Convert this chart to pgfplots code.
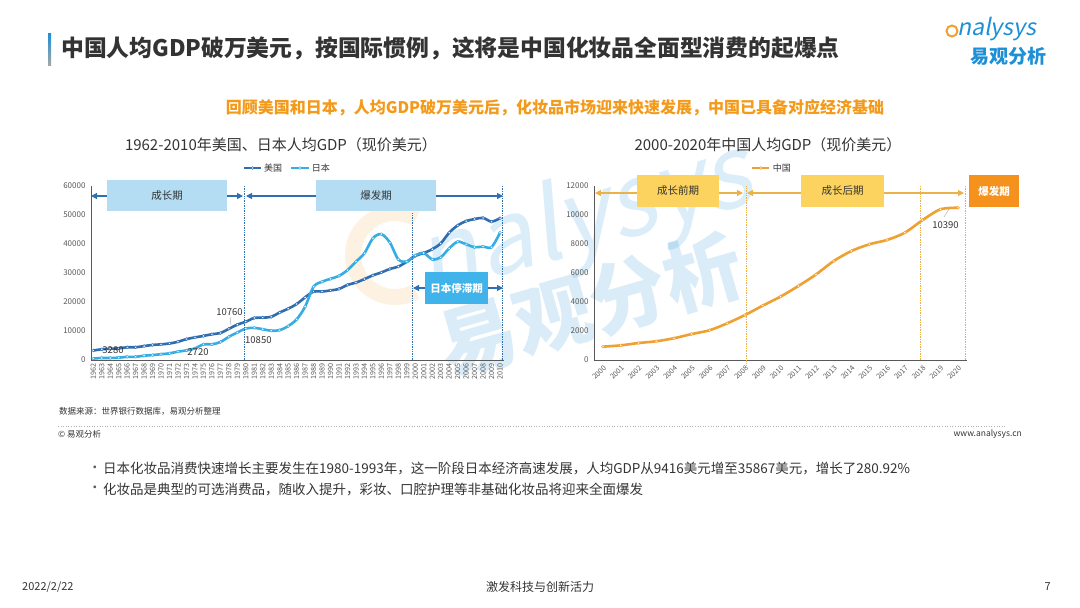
\documentclass[border=0pt]{standalone}
\usepackage{fontspec}
\setmainfont{Noto Sans CJK SC}
\newfontfamily\logofont{Noto Sans CJK SC}[FakeSlant=0.2]
\usepackage{pgfplots}
\pgfplotsset{compat=1.18}
\usetikzlibrary{arrows.meta}
\definecolor{usblue}{HTML}{2E6DB0}
\definecolor{jpblue}{HTML}{35ACE3}
\definecolor{cnorange}{HTML}{F0A030}
\definecolor{boxlb}{HTML}{B4DDF3}
\definecolor{boxjp}{HTML}{3FB3EA}
\definecolor{arrowb}{HTML}{2F6FB2}
\definecolor{arrowo}{HTML}{EBB24A}
\definecolor{boxy}{HTML}{FCD35F}
\definecolor{boxo}{HTML}{F5921E}
\definecolor{subor}{HTML}{F39A1B}
\definecolor{txt}{HTML}{333333}
\definecolor{ticc}{HTML}{595959}
\definecolor{logob}{HTML}{1C8FD6}
\newcommand\fs[1]{\fontsize{#1}{#1}\selectfont}
\pgfplotstableread{
year us jp
1962 3280 500
1963 3700 700
1964 3900 700
1965 4000 800
1966 4400 1100
1967 4400 1100
1968 4800 1500
1969 5200 1700
1970 5400 2000
1971 5700 2300
1972 6300 2900
1973 7200 3300
1974 7800 4000
1975 8300 5400
1976 8900 5400
1977 9300 6200
1978 10760 8000
1979 12200 9500
1980 13200 10850
1981 14500 11100
1982 14600 10600
1983 14900 10100
1984 16400 10300
1985 17700 11700
1986 19300 14000
1987 21600 18400
1988 23600 25300
1989 23600 27000
1990 24000 28000
1991 24500 29000
1992 25900 31000
1993 26700 33900
1994 27900 36800
1995 29200 42000
1996 30200 43400
1997 31400 40500
1998 32200 34700
1999 33900 33900
2000 35900 36100
2001 36900 36900
2002 38200 34700
2003 40200 35400
2004 43900 38500
2005 46400 40800
2006 47900 39900
2007 48600 38900
2008 49000 39100
2009 47700 38900
2010 48900 43900
}\usjp
\pgfplotstableread{
year cn
2000 920
2001 1010
2002 1170
2003 1290
2004 1500
2005 1790
2006 2050
2007 2530
2008 3100
2009 3750
2010 4370
2011 5100
2012 5900
2013 6830
2014 7520
2015 7980
2016 8280
2017 8780
2018 9650
2019 10390
2020 10500
}\cn
\begin{document}
\begin{tikzpicture}
\useasboundingbox (0,0) rectangle (1080pt,-608pt);
% watermark
\begin{scope}[x=1pt,y=-1pt]
\draw[cnorange, opacity=0.14, line width=16pt] (395,255) ++(60:42) arc (60:300:42);
\node[rotate=16, opacity=0.16, text=logob, font=\logofont\fs{100}] at (585,222) {nalysys};
\node[rotate=16, opacity=0.17, text=logob, font=\fs{78}\bfseries] at (590,305) {易观分析};
\end{scope}
% left axis
\begin{axis}[at={(91pt,-360pt)}, anchor=south west,
 scale only axis, width=413pt, height=174pt,
 xmin=1961.73, xmax=2010.47, ymin=0, ymax=60000,
 axis x line*=bottom, axis y line*=left,
 axis line style={draw=ticc, line width=0.6pt},
 xtick={1962,...,2010}, ytick={0,10000,...,60000},
 major tick length=0pt,
 tick label style={font=\fs{8}, text=ticc},
 yticklabel style={xshift=-2pt},
 xticklabel style={rotate=90, anchor=east, font=\fs{7.2}},
 /pgf/number format/1000 sep={},
 /pgf/number format/assume math mode=true,
 scaled y ticks=false,
 clip=false,
 legend style={at={(0.475,1)}, anchor=center, yshift=18pt, draw=none, fill=none,
   legend columns=2, font=\fs{9}, text=txt,
   /tikz/every even column/.append style={column sep=6pt}},
 legend cell align=left,
]
\addplot[usblue, line width=2.6pt, smooth, mark=*, mark size=1.4pt,
  mark options={fill=white, draw=usblue, line width=0.5pt}] table[x=year, y=us] {\usjp};
\addlegendentry{美国}
\addplot[jpblue, line width=2.6pt, smooth, mark=*, mark size=1.4pt,
  mark options={fill=white, draw=jpblue, line width=0.5pt}] table[x=year, y=jp] {\usjp};
\addlegendentry{日本}
\draw[arrowb, densely dotted, line width=0.7pt] (axis cs:1979.8,0) -- (axis cs:1979.8,60000);
\draw[arrowb, densely dotted, line width=0.7pt] (axis cs:1999.66,0) -- (axis cs:1999.66,51000);
\draw[arrowb, densely dotted, line width=0.7pt] (axis cs:2010.3,0) -- (axis cs:2010.3,60000);
\end{axis}
% right axis
\begin{axis}[at={(594pt,-360pt)}, anchor=south west,
 scale only axis, width=373pt, height=174pt,
 xmin=1999.5, xmax=2020.5, ymin=0, ymax=12000,
 axis x line*=bottom, axis y line*=left,
 axis line style={draw=ticc, line width=0.6pt},
 xtick={2000,...,2020}, ytick={0,2000,...,12000},
 major tick length=0pt,
 tick label style={font=\fs{8}, text=ticc},
 yticklabel style={xshift=-2pt},
 xticklabel style={rotate=45, anchor=north east, font=\fs{7.2}},
 /pgf/number format/1000 sep={},
 /pgf/number format/assume math mode=true,
 scaled y ticks=false,
 clip=false,
 legend style={at={(0.477,1)}, anchor=center, yshift=18pt, draw=none, fill=none,
   font=\fs{9}, text=txt},
 legend cell align=left,
]
\addplot[cnorange, line width=2.6pt, smooth, mark=*, mark size=1.4pt,
  mark options={fill=white, draw=cnorange, line width=0.5pt}] table[x=year, y=cn] {\cn};
\addlegendentry{中国}
\draw[arrowo, densely dotted, line width=0.7pt] (axis cs:2008.1,-500) -- (axis cs:2008.1,12000);
\draw[arrowo, densely dotted, line width=0.7pt] (axis cs:2017.9,0) -- (axis cs:2017.9,12000);
\draw[arrowo, densely dotted, line width=0.7pt] (axis cs:2020.4,0) -- (axis cs:2020.4,12000);
\end{axis}
\begin{scope}[x=1pt,y=-1pt]
% title
\shade[top color=logob, bottom color=gray!70] (48,33) rectangle (51,65);
\node[anchor=west, font=\fs{22.8}\bfseries, text=txt, inner sep=0pt] at (61,48) {中国人均GDP破万美元，按国际惯例，这将是中国化妆品全面型消费的起爆点};
% logo
\node[anchor=west, font=\logofont\fs{23}, text=logob, inner sep=0pt] at (957,29) {nalysys};
\draw[cnorange, line width=2pt] (952,31) circle (5.5);
\node[anchor=center, font=\fs{19}\bfseries, text=logob, inner sep=0pt] at (1008,56) {易观分析};
% subtitle
\node[font=\fs{16}\bfseries, text=subor, inner sep=0pt] at (555,108) {回顾美国和日本，人均GDP破万美元后，化妆品市场迎来快速发展，中国已具备对应经济基础};
% chart titles
\node[font=\fs{15}, text=txt, inner sep=0pt] at (281,145) {1962-2010年美国、日本人均GDP（现价美元）};
\node[font=\fs{15}, text=txt, inner sep=0pt] at (768,145) {2000-2020年中国人均GDP（现价美元）};
% left annotations
\draw[arrowb, line width=1.2pt, {Triangle[width=6pt,length=6pt]}-{Triangle[width=6pt,length=6pt]}] (91,196) -- (243,196);
\draw[arrowb, line width=1.2pt, {Triangle[width=6pt,length=6pt]}-{Triangle[width=6pt,length=6pt]}] (246,196) -- (503,196);
\fill[boxlb] (107,180) rectangle (227,211);
\node[font=\fs{10.5}, text=txt] at (167,195.5) {成长期};
\fill[boxlb] (316,180) rectangle (436,211);
\node[font=\fs{10.5}, text=txt] at (376,195.5) {爆发期};
\draw[arrowb, line width=1.2pt, {Triangle[width=6pt,length=6pt]}-{Triangle[width=6pt,length=6pt]}] (413,288) -- (503,288);
\fill[boxjp] (425,272) rectangle (488,304);
\node[font=\fs{10.5}\bfseries, text=white] at (456.5,288) {日本停滞期};
\node[font=\fs{9.5}, text=txt, inner sep=0pt] at (113,350) {3280};
\node[font=\fs{9.5}, text=txt, inner sep=0pt] at (198,352.5) {2720};
\node[font=\fs{9.5}, text=txt, inner sep=0pt] at (229.5,312) {10760};
\draw[gray!60, line width=0.5pt] (230,317) -- (231,325);
\node[font=\fs{9.5}, text=txt, inner sep=0pt, anchor=west] at (245,340) {10850};
% right annotations
\draw[arrowo, line width=1.2pt, {Triangle[width=6pt,length=6pt]}-{Triangle[width=6pt,length=6pt]}] (595,193) -- (743,193);
\draw[arrowo, line width=1.2pt, {Triangle[width=6pt,length=6pt]}-{Triangle[width=6pt,length=6pt]}] (747,193) -- (964,193);
\fill[boxy] (637,175) rectangle (719,207);
\node[font=\fs{10.5}, text=txt] at (678,191) {成长前期};
\fill[boxy] (801,175) rectangle (884,207);
\node[font=\fs{10.5}, text=txt] at (842.5,191) {成长后期};
\fill[boxo] (969,175) rectangle (1019,207);
\node[font=\fs{10.5}\bfseries, text=white] at (994,191) {爆发期};
\node[font=\fs{9.5}, text=txt, inner sep=0pt] at (945.5,225) {10390};
\draw[gray!60, line width=0.5pt] (949,209) -- (944,217);
% source and footer
\node[anchor=west, font=\fs{8.5}, text=txt, inner sep=0pt] at (59,411) {数据来源：世界银行数据库，易观分析整理};
\draw[gray!60, dotted, line width=0.6pt] (58,426) -- (1005,426);
\node[anchor=west, font=\fs{8.5}, text=txt, inner sep=0pt] at (58,434) {© 易观分析};
\node[anchor=east, font=\fs{8.5}, text=txt, inner sep=0pt] at (1022,434) {www.analysys.cn};
\node[anchor=west, font=\fs{13.5}, text=ticc, inner sep=0pt] at (88,469) {•};
\node[anchor=west, font=\fs{13.5}, text=txt, inner sep=0pt] at (103,469) {日本化妆品消费快速增长主要发生在1980-1993年，这一阶段日本经济高速发展，人均GDP从9416美元增至35867美元，增长了280.92\%};
\node[anchor=west, font=\fs{13.5}, text=ticc, inner sep=0pt] at (88,489) {•};
\node[anchor=west, font=\fs{13.5}, text=txt, inner sep=0pt] at (103,489) {化妆品是典型的可选消费品，随收入提升，彩妆、口腔护理等非基础化妆品将迎来全面爆发};
\node[anchor=west, font=\fs{11}, text=txt, inner sep=0pt] at (22,587) {2022/2/22};
\node[font=\fs{12}, text=txt, inner sep=0pt] at (540,587) {激发科技与创新活力};
\node[anchor=east, font=\fs{11}, text=txt, inner sep=0pt] at (1051,587) {7};
\end{scope}
\end{tikzpicture}
\end{document}
